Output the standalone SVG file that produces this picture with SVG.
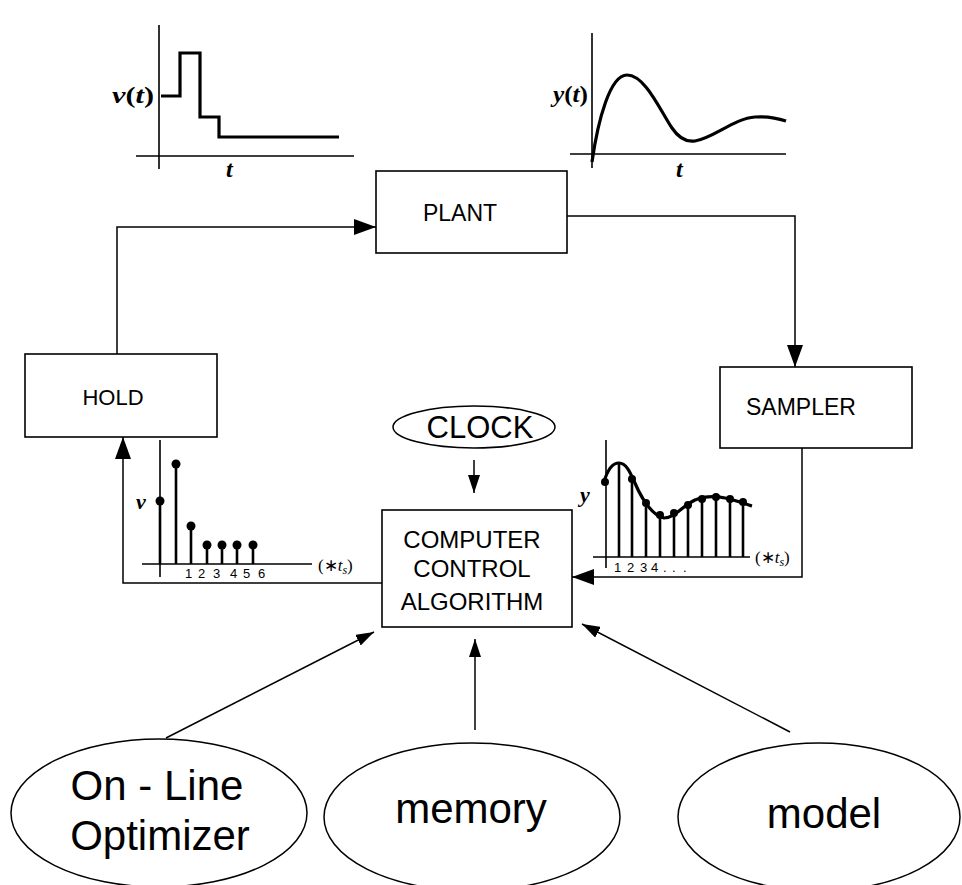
<svg xmlns="http://www.w3.org/2000/svg" width="962" height="885" viewBox="0 0 962 885">
<style>
.box{fill:#fff;stroke:#000;stroke-width:1.6}
.ell{fill:#fff;stroke:#000;stroke-width:1.5}
.lbl{font-family:"Liberation Sans",Arial,sans-serif;fill:#000;text-anchor:middle}
.big{font-family:"Liberation Sans",Arial,sans-serif;font-size:42px;fill:#000;text-anchor:middle}
.conn{fill:none;stroke:#000;stroke-width:1.5}
.axis{fill:none;stroke:#000;stroke-width:1.6}
.sig{fill:none;stroke:#000;stroke-width:3.2}
.stem{fill:none;stroke:#000;stroke-width:2.6}
.math{font-family:"Liberation Serif","Times New Roman",serif;font-weight:bold;fill:#000}
.it{font-style:italic}
.tick{font-family:"Liberation Sans",Arial,sans-serif;font-size:13px;fill:#000}
.ts{font-family:"Liberation Serif","Times New Roman",serif;font-size:17px;fill:#000}
</style>
<defs>
<marker id="arr" viewBox="0 0 22 16" markerWidth="22" markerHeight="16" refX="22" refY="8" orient="auto" markerUnits="userSpaceOnUse"><path d="M0,0 L22,8 L0,16 z" fill="#000"/></marker>
<marker id="arrs" viewBox="0 0 18 12" markerWidth="18" markerHeight="12" refX="18" refY="6" orient="auto" markerUnits="userSpaceOnUse"><path d="M0,0 L18,6 L0,12 z" fill="#000"/></marker>
</defs>
<rect width="962" height="885" fill="#fff"/>

<g id="connectors">
<path class="conn" d="M117,354 V227 H376" marker-end="url(#arr)"/>
<path class="conn" d="M567,216 H795 V367" marker-end="url(#arr)"/>
<path class="conn" d="M802,448 V577 H572" marker-end="url(#arr)"/>
<path class="conn" d="M382,583 H123 V437" marker-end="url(#arr)"/>
<path class="conn" d="M474,460 V493" marker-end="url(#arrs)"/>
<path class="conn" d="M166,738 L374,632" marker-end="url(#arrs)"/>
<path class="conn" d="M475,730 V639" marker-end="url(#arrs)"/>
<path class="conn" d="M790,732 L582,624" marker-end="url(#arrs)"/>
</g>

<g id="plant">
<rect class="box" x="376" y="171" width="191" height="82"/>
<text class="lbl" x="460" y="221" font-size="23">PLANT</text>
</g>
<g id="hold">
<rect class="box" x="25" y="354" width="192" height="83"/>
<text class="lbl" x="113" y="405" font-size="22">HOLD</text>
</g>
<g id="sampler">
<rect class="box" x="720" y="367" width="192" height="81"/>
<text class="lbl" x="801" y="415" font-size="23">SAMPLER</text>
</g>
<g id="computer">
<rect class="box" x="382" y="510" width="190" height="117"/>
<text class="lbl" x="472" y="548" font-size="24">COMPUTER</text>
<text class="lbl" x="472" y="577" font-size="24">CONTROL</text>
<text class="lbl" x="472" y="610" font-size="24">ALGORITHM</text>
</g>
<g id="clock">
<ellipse class="ell" cx="474" cy="427" rx="81" ry="21"/>
<text class="lbl" x="480" y="438" font-size="31">CLOCK</text>
</g>
<g id="optimizer">
<ellipse class="ell" cx="159" cy="813" rx="148" ry="74"/>
<text class="big" x="157" y="800">On - Line</text>
<text class="big" x="160" y="850">Optimizer</text>
</g>
<g id="memory">
<ellipse class="ell" cx="472" cy="817" rx="148" ry="74"/>
<text class="big" x="471" y="823">memory</text>
</g>
<g id="model">
<ellipse class="ell" cx="819" cy="817" rx="141" ry="74"/>
<text class="big" x="824" y="828">model</text>
</g>

<g id="plot-v-t">
<path class="axis" d="M159,25 V169 M136,156 H354"/>
<path class="sig" d="M161,96 H180 V53 H200 V117 H219 V137 H339"/>
<text class="math" x="112" y="103" font-size="24" textLength="42" lengthAdjust="spacingAndGlyphs"><tspan class="it">v</tspan>(<tspan class="it">t</tspan>)</text>
<text class="math it" x="226" y="177" font-size="24">t</text>
</g>

<g id="plot-y-t">
<path class="axis" d="M592,33 V168 M570,154 H786"/>
<path class="sig" d="M592,162 C598,120 610,75 627,75 C645,75 660,110 672,128 C680,140 688,142 695,141 C712,139 735,118 755,117 C770,116 780,119 786,121"/>
<text class="math" x="553" y="102" font-size="24" textLength="35" lengthAdjust="spacingAndGlyphs"><tspan class="it">y</tspan>(<tspan class="it">t</tspan>)</text>
<text class="math it" x="676" y="177" font-size="24">t</text>
</g>

<g id="plot-v-samples">
<path class="axis" d="M160,440 V577 M142,564 H312"/>
<path class="stem" d="M160,564 V501 M176,564 V464 M191,564 V526 M207,564 V545 M222,564 V545 M237,564 V545 M253,564 V545"/>
<g fill="#000">
<circle cx="160" cy="501" r="4.5"/><circle cx="176" cy="464" r="4.5"/><circle cx="191" cy="526" r="4.5"/>
<circle cx="207" cy="545" r="4.5"/><circle cx="222" cy="545" r="4.5"/><circle cx="237" cy="545" r="4.5"/><circle cx="253" cy="545" r="4.5"/>
</g>
<text class="math it" x="136" y="509" font-size="22">v</text>
<text class="tick" x="185" y="578">1</text>
<text class="tick" x="198" y="578">2</text>
<text class="tick" x="213" y="578">3</text>
<text class="tick" x="230" y="578">4</text>
<text class="tick" x="243" y="578">5</text>
<text class="tick" x="258" y="578">6</text>
<text class="ts" x="318" y="571">(∗<tspan font-style="italic">t</tspan><tspan font-style="italic" font-size="12" dy="3">s</tspan><tspan dy="-3">)</tspan></text>
</g>

<g id="plot-y-samples">
<path class="axis" d="M606,440 V568 M593,557 H750"/>
<path class="stem" d="M619,557 V463 M632,557 V479 M646,557 V503 M660,557 V515 M674,557 V513 M688,557 V505 M702,557 V499 M716,557 V497 M730,557 V499 M743,557 V502"/>
<path class="sig" d="M604,482 C608,468 613,463 619,463 C626,463 630,472 634,481 C640,495 650,515 664,518 C675,518 682,506 695,500 C705,496 715,496 725,498 C735,500 745,504 752,506"/>
<g fill="#000">
<circle cx="605" cy="482" r="4"/><circle cx="632" cy="479" r="4"/><circle cx="646" cy="503" r="4"/><circle cx="660" cy="515" r="4"/>
<circle cx="674" cy="513" r="4"/><circle cx="688" cy="505" r="4"/><circle cx="702" cy="499" r="4"/><circle cx="716" cy="497" r="4"/>
<circle cx="730" cy="499" r="4"/><circle cx="743" cy="502" r="4"/>
</g>
<text class="math it" x="580" y="502" font-size="22">y</text>
<text class="tick" x="614" y="572">1</text>
<text class="tick" x="627" y="572">2</text>
<text class="tick" x="640" y="572">3</text>
<text class="tick" x="651" y="572">4</text>
<text class="tick" x="663" y="572">.</text>
<text class="tick" x="672" y="572">.</text>
<text class="tick" x="683" y="572">.</text>
<text class="ts" x="755" y="563">(∗<tspan font-style="italic">t</tspan><tspan font-style="italic" font-size="12" dy="3">s</tspan><tspan dy="-3">)</tspan></text>
</g>
</svg>
